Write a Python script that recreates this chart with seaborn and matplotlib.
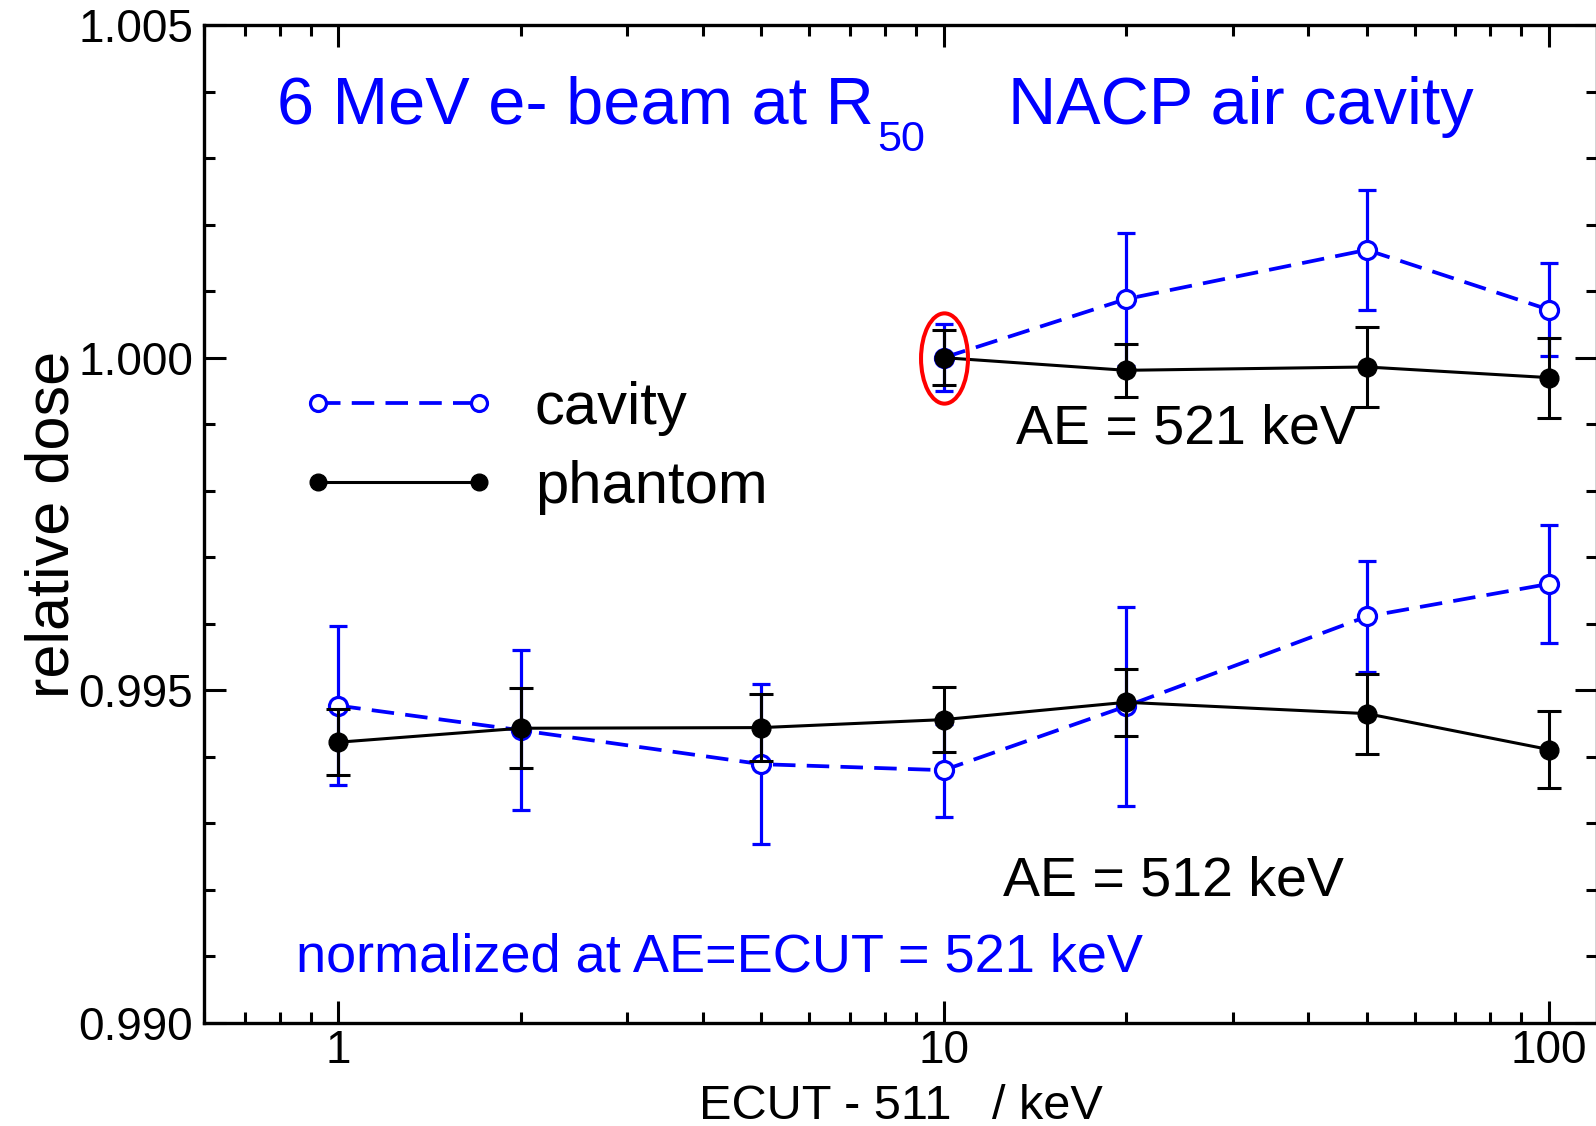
import numpy as np
import pandas as pd
import matplotlib
matplotlib.use("Agg")
import matplotlib.pyplot as plt
import seaborn as sns
from matplotlib.path import Path
from matplotlib.transforms import Affine2D
from matplotlib.lines import Line2D
from matplotlib.ticker import FixedLocator, FixedFormatter, LogLocator, MultipleLocator, NullFormatter

# ---------------- data ----------------
x_521 = [10, 20, 50, 100]
cavity_521 = [1.0000, 1.00088, 1.00162, 1.00072]
cavity_521_err = [0.0005, 0.0010, 0.0009, 0.0007]
phantom_521 = [1.0000, 0.99981, 0.99986, 0.99970]
phantom_521_err = [0.00041, 0.0004, 0.0006, 0.0006]

x_512 = [1, 2, 5, 10, 20, 50, 100]
cavity_512 = [0.99477, 0.99440, 0.99389, 0.99380, 0.99476, 0.99611, 0.99660]
cavity_512_err = [0.0012, 0.0012, 0.0012, 0.0007, 0.0015, 0.00084, 0.00089]
phantom_512 = [0.99422, 0.99443, 0.99444, 0.99456, 0.99482, 0.99465, 0.99411]
phantom_512_err = [0.0005, 0.0006, 0.0005, 0.00049, 0.0005, 0.0006, 0.00058]

highlight_x = [10]
highlight_y = [1.0000]

x_ticks = [1, 10, 100]
x_tick_labels = ["1", "10", "100"]
y_ticks = [0.990, 0.995, 1.000, 1.005]
y_tick_labels = ["0.990", "0.995", "1.000", "1.005"]

series_names = ["cavity", "phantom"]

# ---------------- style ----------------
sns.set_theme(style="ticks")
plt.rcParams["font.family"] = ["Liberation Sans", "DejaVu Sans"]
plt.rcParams["axes.linewidth"] = 2.4
for k in ["text.color", "axes.labelcolor", "xtick.color", "ytick.color", "axes.edgecolor"]:
    plt.rcParams[k] = "black"

BLUE = "#0000ff"
BLACK = "#000000"

W, H = 1596, 1126
fig = plt.figure(figsize=(W / 100, H / 100), dpi=100)
ax = fig.add_axes([204 / W, 1 - 1023 / H, (1597 - 204) / W, (1023 - 25) / H])
ax.set_facecolor("white")
fig.patch.set_facecolor("white")

ax.set_xscale("log")

cav_kw = dict(color=BLUE, marker="o", markersize=13, markerfacecolor="white",
              markeredgecolor=BLUE, markeredgewidth=2.3, linewidth=2.7,
              linestyle=(0, (6, 3)), estimator=None, sort=False, legend=False,
              errorbar=None)
ph_kw = dict(color=BLACK, marker="o", markersize=13.5, markerfacecolor=BLACK,
             markeredgecolor=BLACK, markeredgewidth=1.0, linewidth=2.2,
             linestyle="-", estimator=None, sort=False, legend=False,
             errorbar=None)

for xs, ys, es in [(x_512, cavity_512, cavity_512_err), (x_521, cavity_521, cavity_521_err)]:
    ax.errorbar(xs, ys, yerr=es, fmt="none", ecolor=BLUE, elinewidth=2.3,
                capsize=6.5, capthick=2.3, zorder=2)
    df = pd.DataFrame({"x": xs, "y": ys})
    sns.lineplot(data=df, x="x", y="y", ax=ax, zorder=3, **cav_kw)

for xs, ys, es in [(x_512, phantom_512, phantom_512_err), (x_521, phantom_521, phantom_521_err)]:
    ax.errorbar(xs, ys, yerr=es, fmt="none", ecolor=BLACK, elinewidth=2.2,
                capsize=8.6, capthick=2.2, zorder=4)
    df = pd.DataFrame({"x": xs, "y": ys})
    sns.lineplot(data=df, x="x", y="y", ax=ax, zorder=5, **ph_kw)

# red ellipse highlighting the normalisation point
ell = Path(Affine2D().scale(0.52, 1.0).transform_path(Path.unit_circle()).vertices,
           Path.unit_circle().codes)
ax.plot(highlight_x, highlight_y, linestyle="none", marker=ell, markersize=65,
        markerfacecolor="none", markeredgecolor="red", markeredgewidth=2.9, zorder=6)

ax.set_xlim(0.6, 120)
ax.set_ylim(0.990, 1.005)

ax.xaxis.set_major_locator(FixedLocator(x_ticks))
ax.xaxis.set_major_formatter(FixedFormatter(x_tick_labels))
ax.xaxis.set_minor_locator(LogLocator(base=10, subs=np.arange(2, 10)))
ax.xaxis.set_minor_formatter(NullFormatter())
ax.yaxis.set_major_locator(FixedLocator(y_ticks))
ax.yaxis.set_major_formatter(FixedFormatter(y_tick_labels))
ax.yaxis.set_minor_locator(MultipleLocator(0.001))

ax.tick_params(which="both", direction="in", top=True, right=True, colors=BLACK,
               labelcolor=BLACK)
ax.tick_params(which="major", length=16, width=2.2, labelsize=33)
ax.tick_params(which="minor", length=8, width=2.2)
ax.tick_params(axis="y", which="major", pad=8)
ax.tick_params(axis="x", which="major", pad=4.5)
for s in ax.spines.values():
    s.set_color(BLACK)
    s.set_linewidth(2.4)

ax.set_xlabel("ECUT - 511   / keV", fontsize=35, color=BLACK)
ax.set_ylabel("relative dose", fontsize=44, color=BLACK)
ax.xaxis.set_label_coords(0.5, -0.061)
ax.yaxis.set_label_coords(-0.088, 0.5)

# legend
handles = [
    Line2D([], [], color=BLUE, marker="o", markersize=11.5, markerfacecolor="white",
           markeredgecolor=BLUE, markeredgewidth=2.3, linewidth=2.7, linestyle=(0, (6, 3))),
    Line2D([], [], color=BLACK, marker="o", markersize=12, markerfacecolor=BLACK,
           markeredgecolor=BLACK, linewidth=2.2),
]
leg = ax.legend(handles, series_names, loc="upper left", bbox_to_anchor=(0.0689, 0.643),
                frameon=False, fontsize=43, numpoints=2, handlelength=3.3,
                handletextpad=0.63, labelspacing=0.40, borderpad=0, borderaxespad=0)
for t in leg.get_texts():
    t.set_color(BLACK)

# texts
def ftext(px, py, s, **kw):
    fig.text(px / W, 1 - py / H, s, va="baseline", ha="left", **kw)

ftext(277, 124, "6 MeV e- beam at R", fontsize=48, color=BLUE)
ftext(877, 151, "50", fontsize=31, color=BLUE)
ftext(1008, 124, "NACP air cavity", fontsize=48, color=BLUE)
ftext(1016, 444, "AE = 521 keV", fontsize=40, color=BLACK)
ftext(1003, 896, "AE = 512 keV", fontsize=40, color=BLACK)
ftext(296, 972, "normalized at AE=ECUT = 521 keV", fontsize=39, color=BLUE)

fig.savefig("out.png", dpi=100, facecolor="white")
